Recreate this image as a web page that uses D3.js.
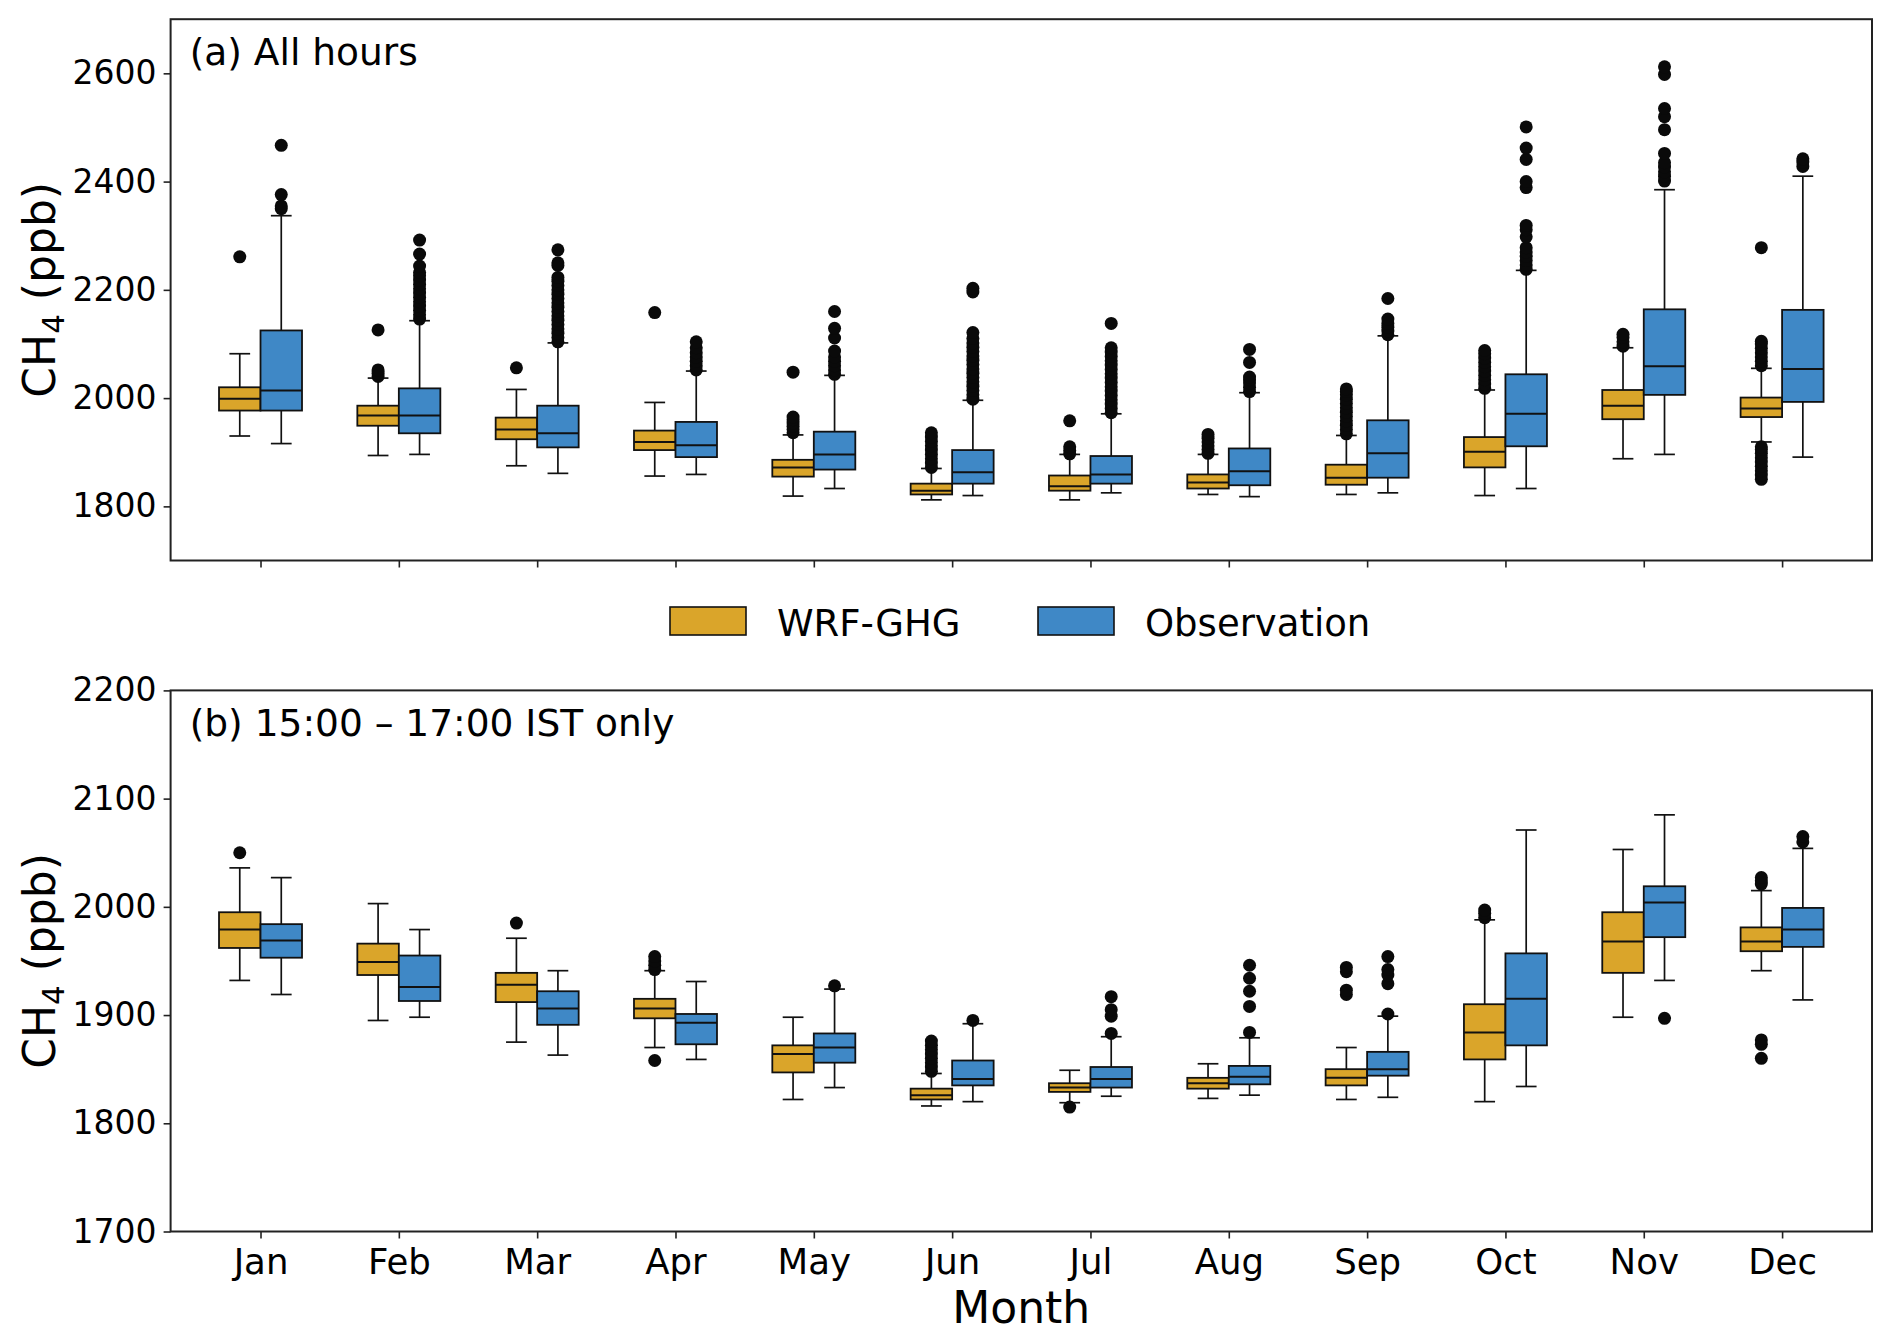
<!DOCTYPE html>
<html>
<head>
<meta charset="utf-8">
<script src="https://cdn.jsdelivr.net/npm/d3@7"></script>
<style>
body{margin:0;background:#fff;}
text{font-family:"DejaVu Sans",sans-serif;fill:#000;}
</style>
</head>
<body>
<svg id="chart" width="1892" height="1343"></svg>
<script>
var months = ["Jan","Feb","Mar","Apr","May","Jun","Jul","Aug","Sep","Oct","Nov","Dec"];
var seriesNames = ["WRF-GHG", "Observation"];
var seriesColors = ["#DAA52A", "#3F88C6"];

// [whisker low, Q1, median, Q3, whisker high]
var wrfAllStats = [
  [1930,1977,1999,2020,2082],[1894,1949,1968,1986,2037],[1875,1924,1942,1964,2016],
  [1856,1904,1919,1940,1992],[1819,1855,1872,1886,1932],[1812,1822,1829,1842,1870],
  [1812,1829,1837,1857,1896],[1822,1833,1844,1859,1896],[1822,1840,1853,1877,1931],
  [1820,1872,1901,1928,2015],[1888,1961,1986,2015,2093],[1919,1965,1981,2001,2055]
];
var obsAllStats = [
  [1916,1977,2014,2125,2337],[1896,1935,1968,2018,2143],[1861,1909,1935,1986,2102],
  [1859,1891,1913,1956,2050],[1833,1868,1896,1938,2042],[1820,1842,1863,1904,1996],
  [1825,1842,1859,1893,1971],[1818,1839,1865,1907,2010],[1825,1853,1898,1959,2115],
  [1833,1911,1971,2044,2236],[1896,2006,2059,2164,2385],[1891,1993,2054,2163,2410]
];
var wrfAllOutliers = [
  [2261],
  [2040,2046,2052,2126],
  [2056],
  [2158],
  [1936,1942,1948,1954,1960,1965,2048],
  [1872,1880,1888,1896,1904,1912,1920,1928,1936],
  [1897,1903,1910,1958],
  [1898,1905,1912,1919,1926,1933],
  [1934,1942,1950,1958,1966,1974,1982,1990,1998,2006,2012,2017],
  [2018,2026,2034,2042,2050,2058,2066,2074,2082,2088],
  [2096,2104,2112,2118],
  [2060,2068,2076,2084,2092,2100,2105,2278,1850,1858,1866,1874,1882,1890,1898,1905,1910]
];
var obsAllOutliers = [
  [2350,2355,2376,2467],
  [2146,2154,2162,2170,2178,2186,2194,2202,2210,2218,2226,2232,2244,2266,2292],
  [2104,2112,2120,2128,2136,2144,2152,2160,2168,2176,2184,2192,2200,2208,2216,2223,2245,2250,2274],
  [2052,2060,2068,2076,2084,2093,2104],
  [2044,2052,2060,2068,2076,2087,2111,2129,2160],
  [1998,2006,2014,2022,2030,2038,2046,2054,2062,2070,2078,2086,2094,2102,2110,2121,2196,2203],
  [1973,1981,1989,1997,2005,2013,2021,2029,2037,2045,2053,2061,2069,2077,2085,2093,2138],
  [2012,2020,2028,2034,2039,2066,2090],
  [2117,2124,2131,2138,2146,2184],
  [2238,2246,2254,2262,2270,2278,2298,2311,2319,2389,2400,2441,2462,2501],
  [2401,2410,2418,2427,2435,2452,2496,2520,2535,2598,2612],
  [2428,2436,2442]
];

var wrfAftStats = [
  [1932,1962,1979,1995,2036],[1895,1937,1949,1966,2003],[1875,1912,1928,1939,1971],
  [1870,1897,1906,1915,1941],[1822,1847,1864,1872,1898],[1816,1822,1826,1832,1846],
  [1819,1829,1833,1837,1849],[1823,1832,1837,1842,1855],[1822,1835,1842,1850,1870],
  [1820,1859,1884,1910,1988],[1898,1939,1968,1995,2053],[1941,1959,1968,1981,2015]
];
var obsAftStats = [
  [1919,1953,1969,1984,2027],[1898,1913,1926,1955,1979],[1863,1891,1906,1922,1941],
  [1859,1873,1893,1901,1931],[1833,1856,1870,1883,1924],[1820,1835,1841,1858,1892],
  [1825,1833,1841,1852,1880],[1826,1836,1843,1853,1879],[1824,1844,1850,1866,1899],
  [1834,1872,1915,1957,2071],[1932,1972,2004,2019,2085],[1914,1963,1979,1999,2054]
];
var wrfAftOutliers = [
  [2050], [], [1985], [1942,1946,1950,1954,1858], [],
  [1848,1852,1856,1860,1864,1868,1872,1876],
  [1815], [], [1919,1923,1940,1944], [1990,1994,1997], [],
  [2021,2024,2027,1860,1873,1877]
];
var obsAftOutliers = [
  [], [], [], [], [1927], [1895], [1883,1899,1905,1917],
  [1884,1908,1922,1934,1946], [1901,1929,1937,1942,1954], [], [1897], [2060,2065]
];

var yTicksAll = [1800, 2000, 2200, 2400, 2600];
var yTicksAft = [1700, 1800, 1900, 2000, 2100, 2200];

var svg = d3.select('#chart');
var x = d3.scaleLinear().domain([-0.65, 11.65]).range([170.6, 1872]);
var halfW = x(0.15) - x(0);

function drawSeries(g, y, stats, outliers, offset, color){
    var data = stats.map(function(s, i){ return {c: x(i + offset), s: s, out: outliers[i]}; });
    var box = g.selectAll(null).data(data).enter().append('g');

    box.append('line')
        .attr('x1', function(d){ return d.c; }).attr('x2', function(d){ return d.c; })
        .attr('y1', function(d){ return y(d.s[0]); }).attr('y2', function(d){ return y(d.s[1]); })
        .attr('stroke', '#111').attr('stroke-width', 1.7);
    box.append('line')
        .attr('x1', function(d){ return d.c; }).attr('x2', function(d){ return d.c; })
        .attr('y1', function(d){ return y(d.s[3]); }).attr('y2', function(d){ return y(d.s[4]); })
        .attr('stroke', '#111').attr('stroke-width', 1.7);
    [0, 4].forEach(function(k){
        box.append('line')
            .attr('x1', function(d){ return d.c - halfW / 2; })
            .attr('x2', function(d){ return d.c + halfW / 2; })
            .attr('y1', function(d){ return y(d.s[k]); })
            .attr('y2', function(d){ return y(d.s[k]); })
            .attr('stroke', '#111').attr('stroke-width', 1.7);
    });
    box.append('rect')
        .attr('x', function(d){ return d.c - halfW; })
        .attr('width', halfW * 2)
        .attr('y', function(d){ return y(d.s[3]); })
        .attr('height', function(d){ return y(d.s[1]) - y(d.s[3]); })
        .attr('fill', color).attr('stroke', '#111').attr('stroke-width', 1.8);
    box.append('line')
        .attr('x1', function(d){ return d.c - halfW; })
        .attr('x2', function(d){ return d.c + halfW; })
        .attr('y1', function(d){ return y(d.s[2]); })
        .attr('y2', function(d){ return y(d.s[2]); })
        .attr('stroke', '#111').attr('stroke-width', 2);
    box.selectAll('circle')
        .data(function(d){ return d.out.map(function(v){ return {c: d.c, v: v}; }); })
        .enter()
        .append('circle')
        .attr('cx', function(d){ return d.c; })
        .attr('cy', function(d){ return y(d.v); })
        .attr('r', 6.5)
        .attr('fill', '#0a0a0a');
}

function drawPanel(top, bottom, domain, ticks, wrfStats, obsStats, wrfOut, obsOut, title, showMonths){
    var y = d3.scaleLinear().domain(domain).range([bottom, top]);
    var g = svg.append('g');

    var yAxis = g.append('g')
        .attr('transform', 'translate(' + x.range()[0] + ',0)')
        .call(d3.axisLeft(y).tickValues(ticks).tickSize(7).tickPadding(7).tickFormat(d3.format('d')));
    yAxis.select('.domain').remove();
    yAxis.selectAll('line').attr('stroke', '#222').attr('stroke-width', 1.6);
    yAxis.selectAll('text').style('font-size', '33px').style('font-family', '"DejaVu Sans", sans-serif').attr('fill', '#000');

    var xAxis = g.append('g')
        .attr('transform', 'translate(0,' + bottom + ')')
        .call(d3.axisBottom(x).tickValues(d3.range(12)).tickSize(7).tickPadding(10)
            .tickFormat(function(i){ return showMonths ? months[i] : ''; }));
    xAxis.select('.domain').remove();
    xAxis.selectAll('line').attr('stroke', '#222').attr('stroke-width', 1.6);
    xAxis.selectAll('text').style('font-size', '35.5px').style('font-family', '"DejaVu Sans", sans-serif').attr('fill', '#000');

    drawSeries(g, y, wrfStats, wrfOut, -0.15, seriesColors[0]);
    drawSeries(g, y, obsStats, obsOut, 0.15, seriesColors[1]);

    g.append('rect')
        .attr('x', x.range()[0]).attr('y', top)
        .attr('width', x.range()[1] - x.range()[0]).attr('height', bottom - top)
        .attr('fill', 'none').attr('stroke', '#222').attr('stroke-width', 2);

    g.append('text')
        .attr('x', 189.7).attr('y', top + 45.6)
        .style('font-size', '37.5px')
        .text(title);

    var yl = g.append('text')
        .attr('transform', 'translate(55,' + ((top + bottom) / 2) + ') rotate(-90)')
        .attr('text-anchor', 'middle')
        .style('font-size', '44px');
    yl.append('tspan').text('CH');
    yl.append('tspan').attr('dy', 9).style('font-size', '31px').text('4');
    yl.append('tspan').attr('dy', -9).text(' (ppb)');
}

drawPanel(19.2, 560.5, [1700, 2700], yTicksAll, wrfAllStats, obsAllStats, wrfAllOutliers, obsAllOutliers, '(a) All hours', false);
drawPanel(690.4, 1231.5, [1700, 2200], yTicksAft, wrfAftStats, obsAftStats, wrfAftOutliers, obsAftOutliers, '(b) 15:00 \u2013 17:00 IST only', true);

svg.append('text')
    .attr('x', (x.range()[0] + x.range()[1]) / 2).attr('y', 1323)
    .attr('text-anchor', 'middle')
    .style('font-size', '44px')
    .text('Month');

// legend
var legendX = [670, 1038];
var legend = svg.selectAll('.legend')
    .data(seriesNames)
    .enter()
    .append('g')
    .attr('class', 'legend')
    .attr('transform', function(d, i){ return 'translate(' + legendX[i] + ',607)'; });
legend.append('rect')
    .attr('width', 76).attr('height', 28)
    .attr('fill', function(d, i){ return seriesColors[i]; })
    .attr('stroke', '#111').attr('stroke-width', 1.6);
legend.append('text')
    .attr('x', 107).attr('y', 28.5)
    .style('font-size', '37px')
    .text(function(d){ return d; });
</script>
</body>
</html>
